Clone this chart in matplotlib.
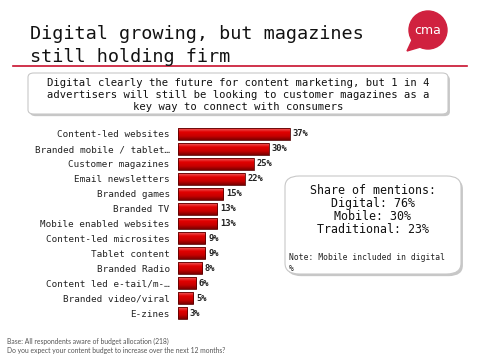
import matplotlib
matplotlib.use("Agg")
import matplotlib.pyplot as plt
import numpy as np
from matplotlib.patches import FancyBboxPatch, Circle, Polygon
from matplotlib.colors import LinearSegmentedColormap

categories = ["Content-led websites", "Branded mobile / tablet\u2026", "Customer magazines",
              "Email newsletters", "Branded games", "Branded TV", "Mobile enabled websites",
              "Content-led microsites", "Tablet content", "Branded Radio",
              "Content led e-tail/m-\u2026", "Branded video/viral", "E-zines"]
values = [37, 30, 25, 22, 15, 13, 13, 9, 9, 8, 6, 5, 3]

title = "Digital growing, but magazines\nstill holding firm"
subtitle = ("Digital clearly the future for content marketing, but 1 in 4\n"
            "advertisers will still be looking to customer magazines as a\n"
            "key way to connect with consumers")
share_lines = ["Share of mentions:", "Digital: 76%", "Mobile: 30%", "Traditional: 23%"]
note = "Note: Mobile included in digital\n%"
footer = ["Base: All respondents aware of budget allocation (218)",
          "Do you expect your content budget to increase over the next 12 months?"]

W, H = 480, 360
fig = plt.figure(figsize=(4.8, 3.6), dpi=100)
fig.patch.set_facecolor("white")

def fx(x): return x / W
def fy(y): return 1 - y / H

MONO = "DejaVu Sans Mono"
RED = "#c8102e"

# Title
fig.text(fx(30), fy(45.5), title, fontsize=13.3, family=MONO, color="#111111",
         ha="left", va="center", linespacing=1.3)
fig.add_artist(plt.Line2D([fx(13), fx(467)], [fy(66), fy(66)], color=RED, lw=1.2))

# CMA logo
fig.add_artist(Polygon([[fx(413), fy(38)], [fx(424), fy(46)], [fx(407), fy(51)]],
                       closed=True, color="#d0213f", transform=fig.transFigure))
fig.add_artist(Circle((428, H - 30), 19, color="#d0213f", transform=None))
fig.text(fx(428), fy(30), "cma", fontsize=9, color="white", ha="center", va="center",
         family="DejaVu Sans")

def rbox(x0, y0, x1, y1, r=0.012):
    sh = FancyBboxPatch((fx(x0) + 0.004, fy(y1) - 0.006), fx(x1 - x0), (y1 - y0) / H,
                        boxstyle=f"round,pad=0,rounding_size={r}", transform=fig.transFigure,
                        facecolor="#b0b0b0", edgecolor="none", alpha=0.7)
    fig.add_artist(sh)
    b = FancyBboxPatch((fx(x0), fy(y1)), fx(x1 - x0), (y1 - y0) / H,
                       boxstyle=f"round,pad=0,rounding_size={r}", transform=fig.transFigure,
                       facecolor="white", edgecolor="#c8c8c8", lw=0.8)
    fig.add_artist(b)

# Subtitle box
rbox(28, 73, 448, 114)
fig.text(fx(238), fy(95), subtitle, fontsize=7.6, family=MONO, ha="center", va="center",
         linespacing=1.2, color="#111111")

# Bar chart
ax = fig.add_axes([fx(178), fy(320.5), 121 / W, 194 / H])
y = np.arange(len(categories))
bars = ax.barh(y, values, height=0.8, color="#d10000", edgecolor="#5a0000", lw=0.6)
grad = np.linspace(0, 1, 64).reshape(-1, 1)
cmap = LinearSegmentedColormap.from_list("g", ["#f06060", "#e00000", "#c80000", "#7a0000"])
for b in bars:
    x0, y0 = b.get_x(), b.get_y()
    im = ax.imshow(grad, cmap=cmap, aspect="auto",
                   extent=[x0, x0 + b.get_width(), y0 + b.get_height(), y0], zorder=2)
    im.set_clip_path(b)
for b in bars:
    b.set_zorder(3)
    b.set_facecolor("none")
ax.set_xlim(0, 40)
ax.set_ylim(len(categories) - 0.5, -0.5)
ax.set_yticks(y)
ax.set_yticklabels(categories, fontsize=6.7, family=MONO, color="#222222")
ax.tick_params(axis="y", length=0, pad=6)
ax.set_xticks([])
for s in ax.spines.values():
    s.set_visible(False)
ax.bar_label(bars, labels=[f"{v}%" for v in values], padding=2, fontsize=6.3,
             family=MONO, fontweight="bold", color="#222222")

# Share box
rbox(285, 176, 461, 274, r=0.03)
ys = [190, 203, 217, 230]
for t, yy in zip(share_lines, ys):
    fig.text(fx(373), fy(yy), t, fontsize=8.4, family=MONO, ha="center", va="center",
             color="#111111")
fig.text(fx(289), fy(263), note, fontsize=5.8, family=MONO, ha="left", va="center",
         linespacing=1.3, color="#222222")

# Footer
fig.text(fx(7), fy(341), footer[0], fontsize=4.9, family="Lato", color="#555555",
         ha="left", va="center")
fig.text(fx(7), fy(351), footer[1], fontsize=4.9, family="Lato", color="#555555",
         ha="left", va="center")

fig.savefig("out.png", dpi=100)
